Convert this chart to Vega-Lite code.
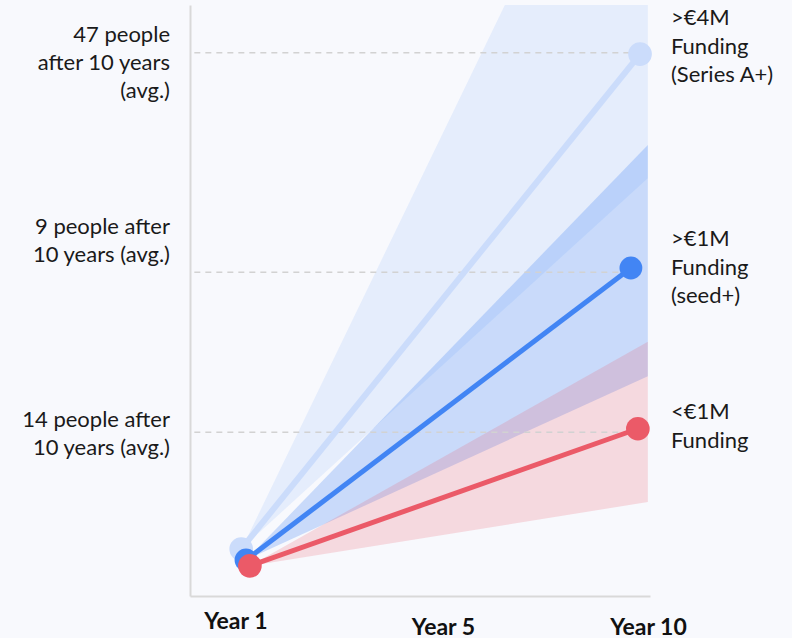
{
  "$schema": "https://vega.github.io/schema/vega-lite/v6.json",
  "width": 460,
  "height": 591,
  "autosize": {"type": "none"},
  "padding": {"left": 190, "top": 5, "right": 142, "bottom": 42},
  "background": "#f8f9fd",
  "config": {"view": {"stroke": null}, "font": "Lato"},
  "datasets": {
    "cones": [
      {"series": "A", "year": 0.9, "lo": 8.1, "hi": 8.1},
      {"series": "A", "year": 10.25, "lo": 70.7, "hi": 150},
      {"series": "S", "year": 0.99, "lo": 6.1, "hi": 6.1},
      {"series": "S", "year": 10.25, "lo": 37.2, "hi": 76.3},
      {"series": "R", "year": 1.08, "lo": 5.1, "hi": 5.1},
      {"series": "R", "year": 10.25, "lo": 15.9, "hi": 43.0}
    ],
    "pts": [
      {"series": "A", "year": 0.88, "value": 7.95},
      {"series": "A", "year": 10.07, "value": 91.7},
      {"series": "S", "year": 0.99, "value": 6.1},
      {"series": "S", "year": 9.86, "value": 55.5},
      {"series": "R", "year": 1.08, "value": 5.1},
      {"series": "R", "year": 10.02, "value": 28.3}
    ],
    "guides": [
      {"level": 91.9, "from": -0.2, "to": 10},
      {"level": 54.8, "from": -0.2, "to": 9.9},
      {"level": 27.7, "from": -0.2, "to": 10}
    ],
    "leftLabels": [
      {"text": "47 people\nafter 10 years\n(avg.)", "y": 94.9, "x": -0.3},
      {"text": "9 people after\n10 years (avg.)", "y": 62.4, "x": -0.3},
      {"text": "14 people after\n10 years (avg.)", "y": 29.8, "x": -0.3}
    ],
    "rightLabels": [
      {"text": ">€4M\nFunding\n(Series A+)", "y": 97.8, "x": 10},
      {"text": ">€1M\nFunding\n(seed+)", "y": 60.4, "x": 10},
      {"text": "<€1M\nFunding", "y": 31.1, "x": 10}
    ]
  },
  "layer": [
    {
      "data": {"name": "cones"},
      "transform": [{"filter": "datum.series == 'A'"}],
      "mark": {"type": "area", "clip": true, "interpolate": "linear", "color": "#4285f4", "fillOpacity": 0.1},
      "encoding": {
        "x": {"field": "year", "type": "quantitative", "scale": {"domain": [-0.3, 10.3], "nice": false, "zero": false},
          "axis": {"values": [1, 5, 10], "title": null, "grid": false, "ticks": false, "domainColor": "#d9d9d9", "domainWidth": 2,
            "labelExpr": "'Year ' + datum.value", "labelFont": "Lato", "labelFontSize": 23, "labelFontWeight": "bold", "labelColor": "#111111",
            "labelOverlap": false, "labelFlush": false,
            "labelOffset": {"condition": [{"test": "datum.value == 1", "value": -11}, {"test": "datum.value == 5", "value": 23}], "value": 11},
            "labelPadding": {"condition": {"test": "datum.value == 1", "value": 14}, "value": 20}}},
        "y": {"field": "lo", "type": "quantitative", "scale": {"domain": [0, 100], "nice": false, "zero": false},
          "axis": {"title": null, "labels": false, "ticks": false, "grid": false, "domainColor": "#d9d9d9", "domainWidth": 2}},
        "y2": {"field": "hi"}
      }
    },
    {
      "data": {"name": "cones"},
      "transform": [{"filter": "datum.series == 'S'"}],
      "mark": {"type": "area", "clip": true, "interpolate": "linear", "color": "#4285f4", "fillOpacity": 0.26},
      "encoding": {
        "x": {"field": "year", "type": "quantitative"},
        "y": {"field": "lo", "type": "quantitative"},
        "y2": {"field": "hi"}
      }
    },
    {
      "data": {"name": "cones"},
      "transform": [{"filter": "datum.series == 'R'"}],
      "mark": {"type": "area", "clip": true, "interpolate": "linear", "color": "#eb5a68", "fillOpacity": 0.2},
      "encoding": {
        "x": {"field": "year", "type": "quantitative"},
        "y": {"field": "lo", "type": "quantitative"},
        "y2": {"field": "hi"}
      }
    },
    {
      "data": {"name": "guides"},
      "mark": {"type": "rule", "color": "#d2d2d2", "strokeWidth": 1.5, "strokeDash": [6, 5]},
      "encoding": {
        "x": {"field": "from", "type": "quantitative"},
        "x2": {"field": "to"},
        "y": {"field": "level", "type": "quantitative"}
      }
    },
    {
      "data": {"name": "pts"},
      "transform": [{"filter": "datum.series == 'A'"}],
      "mark": {"type": "line", "color": "#cbdcfb", "strokeWidth": 6},
      "encoding": {
        "x": {"field": "year", "type": "quantitative"},
        "y": {"field": "value", "type": "quantitative"}
      }
    },
    {
      "data": {"name": "pts"},
      "transform": [{"filter": "datum.series == 'A'"}],
      "mark": {"type": "point", "filled": true, "opacity": 1, "color": "#cbdcfb", "size": 560},
      "encoding": {
        "x": {"field": "year", "type": "quantitative"},
        "y": {"field": "value", "type": "quantitative"}
      }
    },
    {
      "data": {"name": "pts"},
      "transform": [{"filter": "datum.series == 'S'"}],
      "mark": {"type": "line", "color": "#4285f4", "strokeWidth": 5},
      "encoding": {
        "x": {"field": "year", "type": "quantitative"},
        "y": {"field": "value", "type": "quantitative"}
      }
    },
    {
      "data": {"name": "pts"},
      "transform": [{"filter": "datum.series == 'S'"}],
      "mark": {"type": "point", "filled": true, "opacity": 1, "color": "#4285f4", "size": 520},
      "encoding": {
        "x": {"field": "year", "type": "quantitative"},
        "y": {"field": "value", "type": "quantitative"}
      }
    },
    {
      "data": {"name": "pts"},
      "transform": [{"filter": "datum.series == 'R'"}],
      "mark": {"type": "line", "color": "#eb5a68", "strokeWidth": 5},
      "encoding": {
        "x": {"field": "year", "type": "quantitative"},
        "y": {"field": "value", "type": "quantitative"}
      }
    },
    {
      "data": {"name": "pts"},
      "transform": [{"filter": "datum.series == 'R'"}],
      "mark": {"type": "point", "filled": true, "opacity": 1, "color": "#eb5a68", "size": 560},
      "encoding": {
        "x": {"field": "year", "type": "quantitative"},
        "y": {"field": "value", "type": "quantitative"}
      }
    },
    {
      "data": {"name": "leftLabels"},
      "mark": {"type": "text", "align": "right", "baseline": "middle", "dx": -20, "fontSize": 22, "lineHeight": 28, "lineBreak": "\n", "color": "#1a1a1a", "font": "Lato"},
      "encoding": {
        "x": {"field": "x", "type": "quantitative"},
        "y": {"field": "y", "type": "quantitative"},
        "text": {"field": "text"}
      }
    },
    {
      "data": {"name": "rightLabels"},
      "mark": {"type": "text", "align": "left", "baseline": "middle", "dx": 34, "fontSize": 22, "lineHeight": 28.5, "lineBreak": "\n", "color": "#1a1a1a", "font": "Lato"},
      "encoding": {
        "x": {"field": "x", "type": "quantitative"},
        "y": {"field": "y", "type": "quantitative"},
        "text": {"field": "text"}
      }
    }
  ]
}
